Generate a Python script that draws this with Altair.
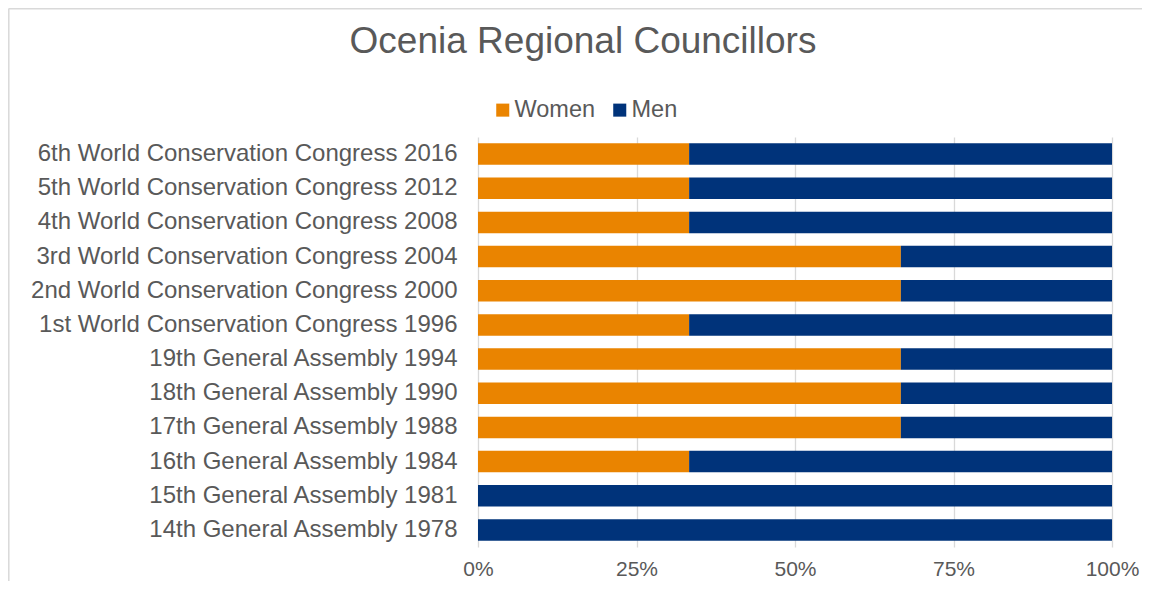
import altair as alt
import pandas as pd

categories = [
    "6th World Conservation Congress 2016",
    "5th World Conservation Congress 2012",
    "4th World Conservation Congress 2008",
    "3rd World Conservation Congress 2004",
    "2nd World Conservation Congress 2000",
    "1st World Conservation Congress 1996",
    "19th General Assembly 1994",
    "18th General Assembly 1990",
    "17th General Assembly 1988",
    "16th General Assembly 1984",
    "15th General Assembly 1981",
    "14th General Assembly 1978",
]
women = [0.333, 0.333, 0.333, 0.667, 0.667, 0.333, 0.667, 0.667, 0.667, 0.333, 0.0, 0.0]
men = [0.667, 0.667, 0.667, 0.333, 0.333, 0.667, 0.333, 0.333, 0.333, 0.667, 1.0, 1.0]
series = ["Women", "Men"]
colors = ["#EA8400", "#00337A"]
ticks = [0, 0.25, 0.5, 0.75, 1.0]
title_text = "Ocenia Regional Councillors"

rows = []
for c, w, m in zip(categories, women, men):
    rows.append({"event": c, "gender": "Women", "share": w, "ord": 0})
    rows.append({"event": c, "gender": "Men", "share": m, "ord": 1})
df = pd.DataFrame(rows)

FONT = "Liberation Sans"
GRAY = "#595959"

bars = alt.Chart(df).mark_bar().encode(
    y=alt.Y("event:N", sort=categories, title=None,
            scale=alt.Scale(paddingInner=0.37, paddingOuter=0.185),
            axis=alt.Axis(ticks=False, domain=False, labelPadding=21, labelFontSize=24,
                          labelColor=GRAY, labelFont=FONT, labelLimit=600)),
    x=alt.X("share:Q", stack="zero", title=None,
            scale=alt.Scale(domain=[0, 1]),
            axis=alt.Axis(values=ticks, format=".0%", ticks=False, domain=False,
                          labelFlush=False, labelPadding=11, labelFontSize=21,
                          labelColor=GRAY, labelFont=FONT, gridColor="#D9D9D9",
                          gridWidth=1.3)),
    color=alt.Color("gender:N", scale=alt.Scale(domain=series, range=colors),
                    legend=alt.Legend(title=None, orient="none", direction="horizontal",
                                      legendX=13, legendY=-39, symbolType="square",
                                      symbolSize=170, symbolStrokeWidth=0, labelFontSize=23.5,
                                      labelColor=GRAY, labelFont=FONT, columnPadding=12,
                                      labelOffset=0)),
    order=alt.Order("ord:Q"),
)

frame_df = pd.DataFrame({"t": [title_text]})
left_edge = alt.Chart(frame_df).mark_rule(color="#D9D9D9", strokeWidth=1.5).encode(
    x=alt.value(-469.2), y=alt.value(-128.5), y2=alt.value(444)
)
top_edge = alt.Chart(frame_df).mark_rule(color="#D9D9D9", strokeWidth=1.5).encode(
    x=alt.value(-469.2), x2=alt.value(670), y=alt.value(-128.2)
)
title = alt.Chart(frame_df).mark_text(
    font=FONT, fontSize=37, color=GRAY, align="center", baseline="alphabetic"
).encode(x=alt.value(105), y=alt.value(-84), text="t:N")

chart = alt.layer(bars, left_edge, top_edge, title).properties(
    width=634,
    height=410,
    padding={"left": 470, "top": 129, "right": 30, "bottom": 34},
    autosize=alt.AutoSizeParams(type="none"),
).configure_view(stroke=None)

chart.save("out.html", embed_options={"renderer": "svg", "actions": False})
